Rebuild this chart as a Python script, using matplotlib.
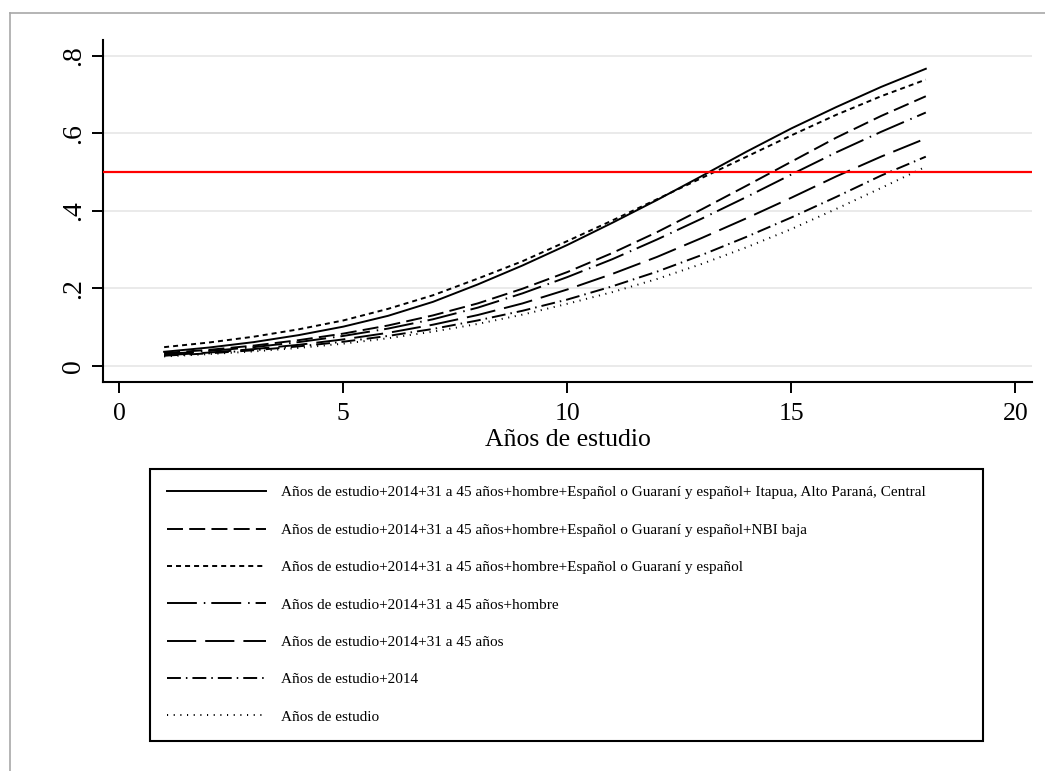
import matplotlib
matplotlib.use("Agg")
import matplotlib.pyplot as plt
from matplotlib.lines import Line2D

plt.rcParams['font.family'] = ['Liberation Serif', 'DejaVu Serif']
plt.rcParams['lines.scale_dashes'] = False

# Years of schooling (x) and predicted probabilities for each model
anios = [1, 2, 3, 4, 5, 6, 7, 8, 9, 10, 11, 12, 13, 14, 15, 16, 17, 18]

p_region = [0.036, 0.047, 0.061, 0.079, 0.101, 0.129, 0.165, 0.210, 0.259,
            0.312, 0.369, 0.428, 0.490, 0.553, 0.613, 0.668, 0.720, 0.767]
p_nbi = [0.033, 0.041, 0.052, 0.066, 0.083, 0.104, 0.130, 0.161, 0.199,
         0.242, 0.291, 0.345, 0.404, 0.465, 0.527, 0.589, 0.645, 0.696]
p_idioma = [0.048, 0.060, 0.075, 0.094, 0.117, 0.147, 0.182, 0.225, 0.270,
            0.322, 0.375, 0.430, 0.485, 0.540, 0.595, 0.648, 0.696, 0.739]
p_hombre = [0.030, 0.038, 0.048, 0.061, 0.077, 0.096, 0.120, 0.150, 0.187,
            0.229, 0.275, 0.326, 0.380, 0.436, 0.494, 0.551, 0.604, 0.654]
p_edad = [0.027, 0.034, 0.043, 0.054, 0.068, 0.085, 0.106, 0.131, 0.161,
          0.197, 0.237, 0.281, 0.330, 0.381, 0.434, 0.489, 0.540, 0.587]
p_2014 = [0.026, 0.032, 0.040, 0.050, 0.062, 0.077, 0.095, 0.117, 0.142,
          0.171, 0.205, 0.243, 0.286, 0.333, 0.383, 0.436, 0.491, 0.540]
p_anios = [0.024, 0.030, 0.037, 0.046, 0.057, 0.071, 0.088, 0.108, 0.132,
           0.160, 0.190, 0.224, 0.263, 0.306, 0.353, 0.405, 0.459, 0.514]

etiquetas = [
    "Años de estudio+2014+31 a 45 años+hombre+Español o Guaraní y español+ Itapua, Alto Paraná, Central",
    "Años de estudio+2014+31 a 45 años+hombre+Español o Guaraní y español+NBI baja",
    "Años de estudio+2014+31 a 45 años+hombre+Español o Guaraní y español",
    "Años de estudio+2014+31 a 45 años+hombre",
    "Años de estudio+2014+31 a 45 años",
    "Años de estudio+2014",
    "Años de estudio",
]

y_ticks = [0, 0.2, 0.4, 0.6, 0.8]
y_ticklabels = ["0", ".2", ".4", ".6", ".8"]
x_ticks = [0, 5, 10, 15, 20]
umbral = 0.5

W, H = 1045, 771
fig = plt.figure(figsize=(W / 100, H / 100), dpi=100)
ax = fig.add_axes([103 / W, (H - 382) / H, (1032 - 103) / W, (382 - 40) / H])

# Line styles (dash patterns in points)
estilos = [
    '-',
    (0, (11.5, 4.5)),
    (0, (3.6, 2.9)),
    (0, (21.5, 5, 1.1, 4.3)),
    (0, (21, 6.5)),
    (0, (10, 3.6, 1.1, 3.6)),
    (0, (0.8, 4)),
]
series = [p_region, p_nbi, p_idioma, p_hombre, p_edad, p_2014, p_anios]

for y in y_ticks:
    ax.axhline(y, color='#e8e8e8', lw=1.3, zorder=0)

handles = []
for vals, ls, lab in zip(series, estilos, etiquetas):
    ln, = ax.plot(anios, vals, color='black', lw=1.4, linestyle=ls, label=lab)
    handles.append(ln)

ax.axhline(umbral, color='#ff0000', lw=1.6, zorder=3)

ax.set_xlim(-0.364, 20.37)
ax.set_ylim(-0.042, 0.8413)
ax.set_xticks(x_ticks)
ax.set_yticks(y_ticks)
ax.set_yticklabels(y_ticklabels)

for side in ['top', 'right']:
    ax.spines[side].set_visible(False)
for side in ['left', 'bottom']:
    ax.spines[side].set_linewidth(1.5)

ax.tick_params(axis='both', direction='out', length=8, width=1.4,
               labelsize=18.5, color='black')
ax.tick_params(axis='x', pad=7)
ax.tick_params(axis='y', pad=4, labelrotation=90, labelsize=20)
for lab in ax.get_yticklabels():
    lab.set_va('center')

ax.set_xlabel("Años de estudio", fontsize=18.5, labelpad=3)

# Legend below the plot
leg = fig.legend(handles, etiquetas, loc='upper left',
                 bbox_to_anchor=(150 / W, 1 - 469 / H, 833 / W, 0),
                 mode='expand', borderaxespad=0, fontsize=11,
                 handlelength=6.5, handletextpad=1.0, borderpad=1.1,
                 labelspacing=1.55, fancybox=False, framealpha=1)
leg.get_frame().set_edgecolor('black')
leg.get_frame().set_linewidth(1.5)

# Outer gray frame (top and left edges)
fig.add_artist(Line2D([10 / W, 1], [1 - 13 / H, 1 - 13 / H],
                      transform=fig.transFigure, color='#a8a8a8', lw=1.2))
fig.add_artist(Line2D([10 / W, 10 / W], [0, 1 - 13 / H],
                      transform=fig.transFigure, color='#a8a8a8', lw=1.2))

fig.savefig("out.png", dpi=100)
